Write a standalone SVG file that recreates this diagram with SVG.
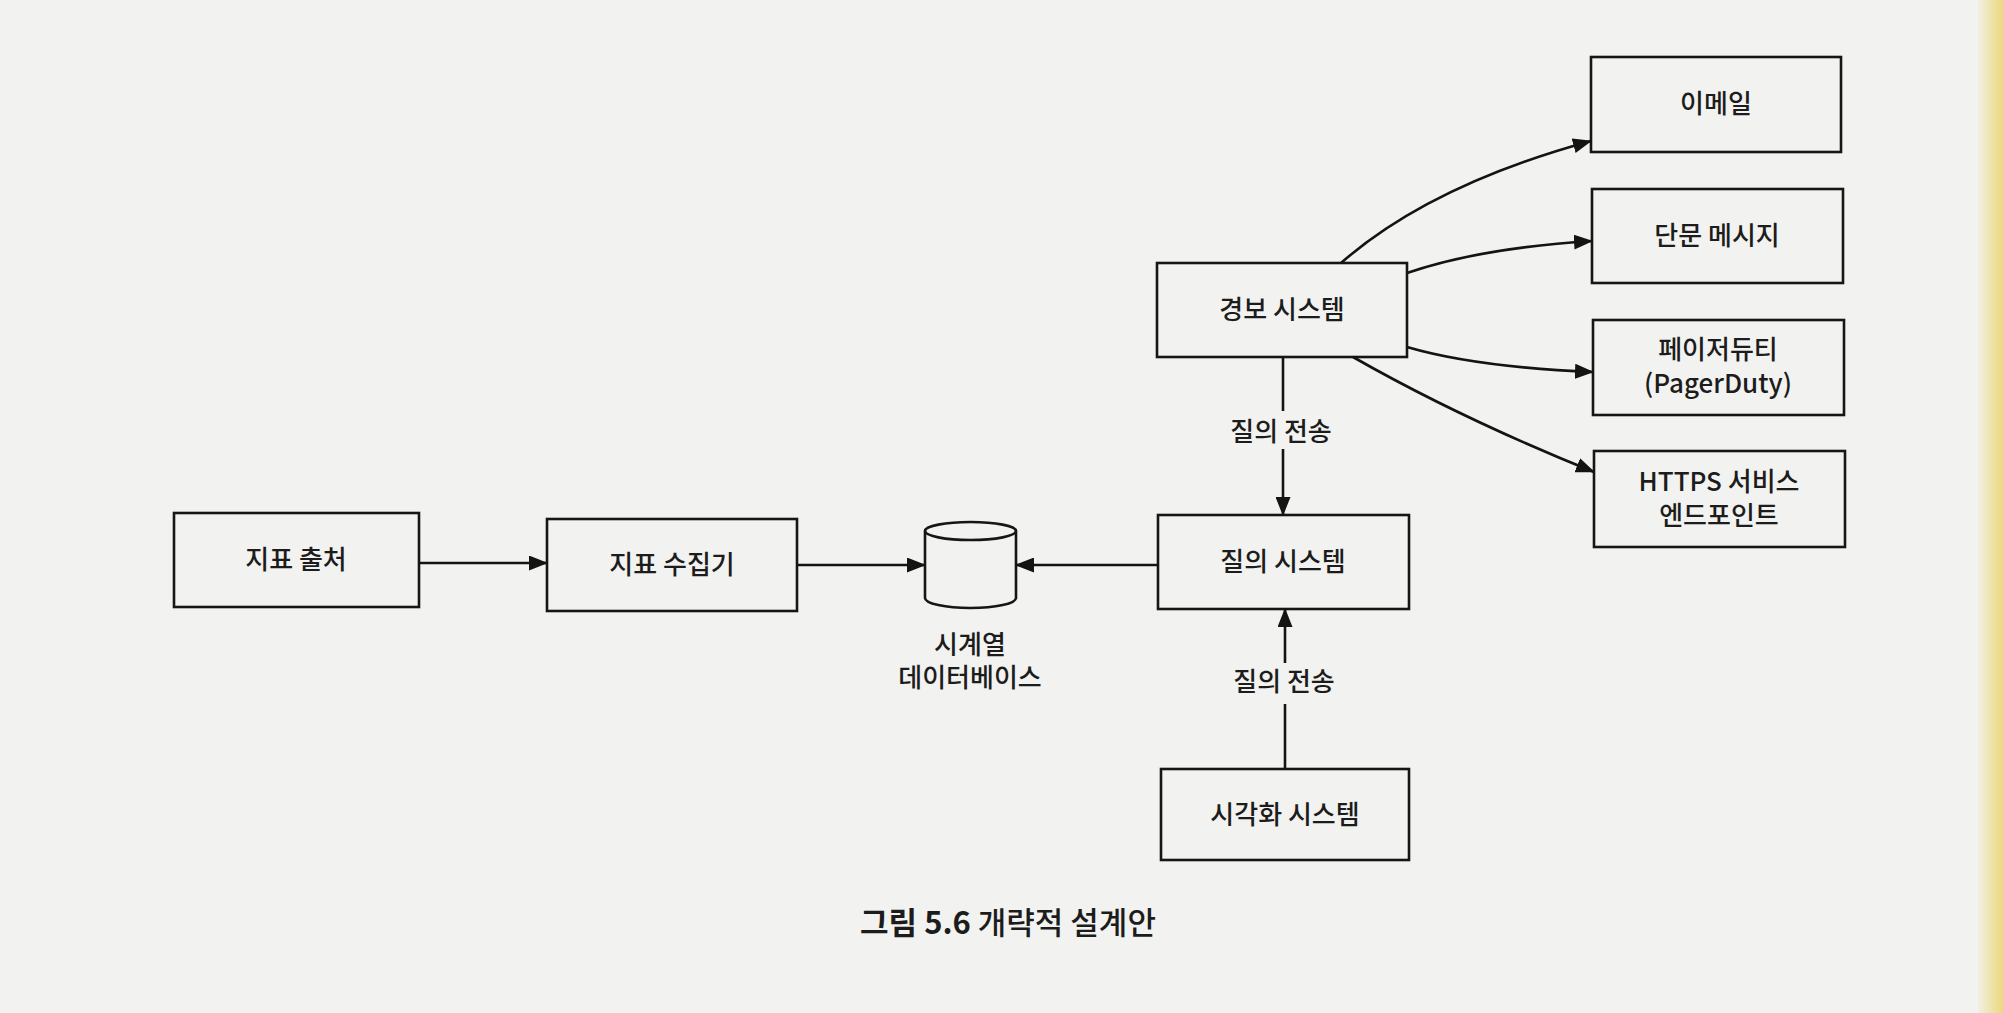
<svg xmlns="http://www.w3.org/2000/svg" width="2003" height="1013" viewBox="0 0 2003 1013">
<style>
.box{fill:none;stroke:#161616;stroke-width:2.6}
.t{font-family:"Noto Sans CJK KR","Noto Sans",sans-serif;font-size:26px;font-weight:500;fill:#1c1c1c;text-anchor:middle}
.edge{fill:none;stroke:#141414;stroke-width:2.6}
.cap{font-family:"Noto Sans CJK KR","Noto Sans",sans-serif;font-size:31px;font-weight:500;fill:#1c1c1c;text-anchor:middle}
</style>
<defs>
<marker id="ah" viewBox="0 0 19 15" refX="18" refY="7.5" markerWidth="19" markerHeight="15" markerUnits="userSpaceOnUse" orient="auto">
<path d="M0,0 L19,7.5 L0,15 Z" fill="#141414"/>
</marker>
<linearGradient id="edgeY" x1="0" x2="1" y1="0" y2="0">
<stop offset="0" stop-color="#f1efe6"/>
<stop offset="1" stop-color="#ecd97a"/>
</linearGradient>
</defs>
<rect x="0" y="0" width="2003" height="1013" fill="#f2f2f0"/>
<rect x="1978" y="0" width="25" height="1013" fill="url(#edgeY)"/>

<g id="n-source"><rect class="box" x="174" y="513" width="245" height="94"/><text class="t" x="296" y="569">지표 출처</text></g>
<g id="n-collector"><rect class="box" x="547" y="519" width="250" height="92"/><text class="t" x="672" y="574">지표 수집기</text></g>
<g id="n-tsdb">
<path d="M925,531 A45.5,9 0 0 1 1016,531 V598 A45.5,10 0 0 1 925,598 Z" fill="none" stroke="#161616" stroke-width="2.6"/>
<path d="M925,531 A45.5,9 0 0 0 1016,531" fill="none" stroke="#161616" stroke-width="2.6"/>
<text class="t" x="970" y="654">시계열</text>
<text class="t" x="970" y="687">데이터베이스</text>
</g>
<g id="n-query"><rect class="box" x="1158" y="515" width="251" height="94"/><text class="t" x="1283" y="571">질의 시스템</text></g>
<g id="n-alert"><rect class="box" x="1157" y="263" width="250" height="94"/><text class="t" x="1282" y="319">경보 시스템</text></g>
<g id="n-vis"><rect class="box" x="1161" y="769" width="248" height="91"/><text class="t" x="1285" y="824">시각화 시스템</text></g>
<g id="n-email"><rect class="box" x="1591" y="57" width="250" height="95"/><text class="t" x="1716" y="113">이메일</text></g>
<g id="n-sms"><rect class="box" x="1592" y="189" width="251" height="94"/><text class="t" x="1717" y="245">단문 메시지</text></g>
<g id="n-pager"><rect class="box" x="1593" y="320" width="251" height="95"/><text class="t" x="1718" y="359">페이저듀티</text><text class="t" x="1718" y="393">(PagerDuty)</text></g>
<g id="n-https"><rect class="box" x="1594" y="451" width="251" height="96"/><text class="t" x="1719" y="491">HTTPS 서비스</text><text class="t" x="1719" y="525">엔드포인트</text></g>

<g id="edges">
<line class="edge" x1="419" y1="563" x2="547" y2="563" marker-end="url(#ah)"/>
<line class="edge" x1="797" y1="565" x2="925" y2="565" marker-end="url(#ah)"/>
<line class="edge" x1="1158" y1="565" x2="1016" y2="565" marker-end="url(#ah)"/>
<line class="edge" x1="1283" y1="357" x2="1283" y2="411"/>
<line class="edge" x1="1283" y1="449" x2="1283" y2="515" marker-end="url(#ah)"/>
<text class="t" x="1281" y="441">질의 전송</text>
<line class="edge" x1="1285" y1="769" x2="1285" y2="704"/>
<line class="edge" x1="1285" y1="663" x2="1285" y2="609" marker-end="url(#ah)"/>
<text class="t" x="1284" y="691">질의 전송</text>
<path class="edge" d="M1341,263 Q1430,185 1591,141" marker-end="url(#ah)"/>
<path class="edge" d="M1407,273 Q1480,248 1592,241" marker-end="url(#ah)"/>
<path class="edge" d="M1407,347 Q1475,367 1593,372" marker-end="url(#ah)"/>
<path class="edge" d="M1353,357 Q1460,418 1594,472" marker-end="url(#ah)"/>
</g>

<text class="cap" x="1008" y="934"><tspan font-weight="700">그림 5.6</tspan> 개략적 설계안</text>
</svg>
